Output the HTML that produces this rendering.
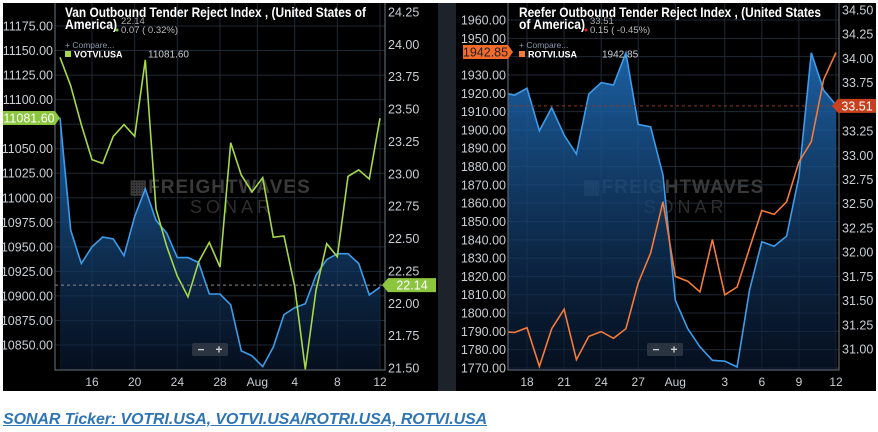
<!DOCTYPE html>
<html><head><meta charset="utf-8">
<style>
html,body{margin:0;padding:0;background:#fff;width:878px;height:432px;overflow:hidden;font-family:"Liberation Sans",sans-serif}
svg{display:block;position:absolute;left:0;top:0}
#link{position:absolute;left:3px;top:411px;font:italic bold 16px "Liberation Sans",sans-serif;color:#2e75b6;text-decoration:underline;white-space:nowrap;letter-spacing:-0.1px}
</style></head>
<body>
<svg id="chart" width="878" height="432">
  <defs>
    <linearGradient id="gfill" x1="0" y1="0" x2="0" y2="1">
      <stop offset="0" stop-color="#1d66ad" stop-opacity="0.95"/>
      <stop offset="1" stop-color="#0a1a33" stop-opacity="0.6"/>
    </linearGradient>
    <clipPath id="clipL"><rect x="55" y="3" width="330" height="367"/></clipPath>
    <clipPath id="clipR"><rect x="508" y="3" width="331" height="367"/></clipPath>
  </defs>
  <rect x="0" y="0" width="878" height="395" fill="#fff"/>
  <rect x="3" y="3" width="435" height="388" fill="#000"/>
  <rect x="438" y="3" width="18" height="388" fill="#1c232b"/>
  <rect x="456" y="3" width="420" height="388" fill="#000"/>
  <g id="gL"></g>
  <g id="gR"></g>
</svg>
<div id="link">SONAR Ticker: VOTRI.USA, VOTVI.USA/ROTRI.USA, ROTVI.USA</div>
<script>
// ---- Van (left) data: day index (July day; Aug n = 31+n) ----
const vanDays = [13,14,15,16,17,18,19,20,21,22,23,24,25,26,27,28,29,30,31,32,33,34,35,36,37,38,39,40,41,42,43];
const vanBlue = [11081.6,10967,10933,10950,10960,10958,10941,10981,11009,10977,10964,10939,10939,10934,10902,10902,10891,10844,10839,10828,10848,10881,10888,10892,10921,10937,10943,10943,10933,10901,10909];
const vanGreen = [23.90,23.68,23.38,23.11,23.08,23.29,23.38,23.29,23.88,22.73,22.44,22.21,22.05,22.32,22.47,22.28,23.24,22.99,22.86,22.97,22.51,22.52,22.13,21.49,22.10,22.46,22.36,22.98,23.03,22.96,23.43];
const vanXTicks = [16,20,24,28,31.5,35,39,43];
const vanXLabels = ["16","20","24","28","Aug","4","8","12"];
const vanLTicks = [10850,10875,10900,10925,10950,10975,11000,11025,11050,11075,11100,11125,11150,11175];
const vanRTicks = [21.50,21.75,22.00,22.25,22.50,22.75,23.00,23.25,23.50,23.75,24.00,24.25];
// ---- Reefer (right) data ----
const refDays = [16,17,18,19,20,21,22,23,24,25,26,27,28,29,30,31,32,33,34,35,36,37,38,39,40,41,42,43];
const refBlue = [1920.3,1919.0,1922.7,1899.5,1912.1,1897.2,1886.8,1919.6,1925.8,1924.5,1942.1,1903.0,1901.7,1875.3,1807.0,1791.5,1781.5,1774.2,1773.7,1770.6,1812.5,1838.9,1836.5,1842.0,1874.4,1942.1,1921.7,1913.6];
const refOrange = [31.18,31.17,31.22,30.82,31.21,31.41,30.89,31.13,31.18,31.11,31.21,31.68,31.99,32.52,31.75,31.70,31.59,32.13,31.56,31.64,32.04,32.43,32.39,32.52,32.93,33.14,33.78,34.06];
const refXTicks = [18,21,24,27,30,34,37,40,43];
const refXLabels = ["18","21","24","27","Aug","3","6","9","12"];
const refLTicks = [1770,1780,1790,1800,1810,1820,1830,1840,1850,1860,1870,1880,1890,1900,1910,1920,1930,1940,1950,1960];
const refRTicks = [31.00,31.25,31.50,31.75,32.00,32.25,32.50,32.75,33.00,33.25,33.50,33.75,34.00,34.25,34.50];

const NS="http://www.w3.org/2000/svg";
function mk(parent,tag,attrs,text){const e=document.createElementNS(NS,tag);for(const k in attrs)e.setAttribute(k,attrs[k]);if(text!==undefined)e.textContent=text;parent.appendChild(e);return e;}
function lin(d0,d1,r0,r1){return v=>r0+(v-d0)*(r1-r0)/(d1-d0);}

function panel(cfg){
  const g=document.getElementById(cfg.gid);
  const x=lin(cfg.xd0,cfg.xd1,cfg.xr0,cfg.xr1);
  const yl=lin(cfg.ld0,cfg.ld1,cfg.lr0,cfg.lr1);
  const yr=lin(cfg.rd0,cfg.rd1,cfg.rr0,cfg.rr1);
  const L=cfg.left,R=cfg.right,B=370,T=3;
  cfg.lTicks.forEach(v=>{
    const l=mk(g,'line',{x1:L,x2:R,y1:yl(v),y2:yl(v),stroke:'#1f2933','stroke-width':1});
    
    
  });
  cfg.xTicks.forEach(v=>{
    const l=mk(g,'line',{x1:x(v),x2:x(v),y1:T,y2:B,stroke:'#1f2933','stroke-width':1});
    
    
  });
  const wm=mk(g,'text',{x:(L+R)/2,y:193,'text-anchor':'middle','font-size':19,'font-weight':'bold',fill:'#3a3a3a','letter-spacing':'1'},'▦FREIGHTWAVES');
  
  
  const wm2=mk(g,'text',{x:(L+R)/2+12,y:213,'text-anchor':'middle','font-size':18,fill:'#2e2e2e','letter-spacing':'4'},'SONAR');
  
  
  const cg=mk(g,'g',{'clip-path':cfg.clip});
  let pts=cfg.days.map((d,i)=>x(d).toFixed(1)+','+yl(cfg.blue[i]).toFixed(1));
  const area=mk(cg,'polygon',{points:x(cfg.days[0])+','+B+' '+pts.join(' ')+' '+x(cfg.days[cfg.days.length-1])+','+B,fill:'url(#gfill)'});
  
  
  const bl=mk(cg,'polyline',{points:pts.join(' '),fill:'none',stroke:'#3d9be9','stroke-width':1.6});
  
  
  const dl=mk(g,'line',{x1:L,x2:R,y1:yr(cfg.lastR),y2:yr(cfg.lastR),stroke:cfg.dashColor,'stroke-width':1,'stroke-dasharray':'3,3'});
  
  
  const p2=cfg.days.map((d,i)=>x(d).toFixed(1)+','+yr(cfg.second[i]).toFixed(1));
  const sl=mk(cg,'polyline',{points:p2.join(' '),fill:'none',stroke:cfg.secColor,'stroke-width':1.6});
  
  
  const ax=mk(g,'polyline',{points:L+','+T+' '+L+','+B+' '+R+','+B+' '+R+','+T,fill:'none',stroke:'#6a737c','stroke-width':1});
  
  
  cfg.lTicks.forEach(v=>{
    if(cfg.hideL && v===cfg.hideL) return;
    const t=mk(g,'text',{x:L-2,y:yl(v)+4.5,'text-anchor':'end','font-size':12.5,fill:'#c9ced3'},v.toFixed(2));
    
    
  });
  cfg.rTicks.forEach(v=>{
    const t=mk(g,'text',{x:R+3,y:yr(v)+4.5,'font-size':12.5,fill:'#c9ced3'},v.toFixed(2));
    
    
  });
  cfg.xTicks.forEach((v,i)=>{
    const t=mk(g,'text',{x:x(v),y:386,'text-anchor':'middle','font-size':12,fill:'#c9ced3'},cfg.xLabels[i]);
    
    
  });
  const tt=mk(g,'text',{x:cfg.titleX,y:17,'font-size':14,'font-weight':'bold',fill:'#fff',textLength:cfg.t1w,lengthAdjust:'spacingAndGlyphs'},cfg.title1);
  
  
  mk(g,'text',{x:cfg.titleX,y:29,'font-size':14,'font-weight':'bold',fill:'#fff',textLength:cfg.t2w,lengthAdjust:'spacingAndGlyphs'},cfg.title2);
  const sm=mk(g,'text',{x:cfg.smallX,y:24,'font-size':9.5,fill:'#aaa'},cfg.lastStr);
  
  
  const ch=mk(g,'text',{x:cfg.smallX,y:33,'font-size':9.5,fill:'#bbb'},cfg.changeStr);
  
  
  mk(g,'circle',{cx:cfg.smallX-4,cy:30,r:1.5,fill:cfg.changeDot});
  const cp=mk(g,'text',{x:cfg.titleX,y:48,'font-size':8.5,fill:'#8a9bb0'},'+ Compare...');
  
  
  mk(g,'rect',{x:cfg.titleX,y:51,width:6,height:6,fill:cfg.secColor});
  const lg=mk(g,'text',{x:cfg.titleX+9,y:57.5,'font-size':9,'font-weight':'bold',fill:'#fff'},cfg.legName);
  
  
  mk(g,'text',{x:cfg.titleX+83,y:57.5,'font-size':10,fill:'#c9ced3'},cfg.legVal);
  const lt=cfg.leftTag;
  const tg1=mk(g,'polygon',{points:lt.x0+','+(lt.y-7)+' '+(lt.x1)+','+(lt.y-7)+' '+(lt.x1+5)+','+lt.y+' '+lt.x1+','+(lt.y+7)+' '+lt.x0+','+(lt.y+7),fill:lt.color});
  
  
  mk(g,'text',{x:(lt.x0+lt.x1)/2,y:lt.y+4.5,'text-anchor':'middle','font-size':12.5,fill:lt.text},lt.label);
  const rt=cfg.rightTag, ry=yr(cfg.lastR);
  const tg2=mk(g,'polygon',{points:(rt.x0-6)+','+ry+' '+rt.x0+','+(ry-7)+' '+rt.x1+','+(ry-7)+' '+rt.x1+','+(ry+7)+' '+rt.x0+','+(ry+7),fill:rt.color});
  
  
  mk(g,'text',{x:(rt.x0+rt.x1)/2,y:ry+4.5,'text-anchor':'middle','font-size':12.5,fill:'#fff'},rt.label);
  const zb=mk(g,'rect',{x:cfg.zoomX,y:343,width:36,height:13,rx:2,fill:'#2a3440'});
  
  
  const zm=mk(g,'text',{x:cfg.zoomX+9,y:353.5,'text-anchor':'middle','font-size':12,'font-weight':'bold',fill:'#ccc'},'−');
  
  
  const zp=mk(g,'text',{x:cfg.zoomX+27,y:353.5,'text-anchor':'middle','font-size':12,'font-weight':'bold',fill:'#ccc'},'+');
  
  
}

panel({gid:'gL',clip:'url(#clipL)',left:55,right:385,
  xd0:16,xd1:43,xr0:92,xr1:380,
  ld0:10850,ld1:11175,lr0:345,lr1:26,
  rd0:21.5,rd1:24.25,rr0:368,rr1:12,
  days:vanDays,blue:vanBlue,second:vanGreen,secColor:'#a6d84a',secName:'green-series-line',
  xTicks:vanXTicks,xLabels:vanXLabels,lTicks:vanLTicks,rTicks:vanRTicks,hideL:11075,
  lastR:22.14,dashColor:'#888',
  title1:'Van Outbound Tender Reject Index , (United States of',title2:'America)',titleX:65,smallX:121,t1w:301,t2w:52,
  lastStr:'22.14',changeStr:'0.07 ( 0.32%)',changeDot:'#7ac943',
  legName:'VOTVI.USA',legVal:'11081.60',
  leftTag:{x0:3,x1:55,y:118,color:'#8cc63f',text:'#fff',label:'11081.60'},
  rightTag:{x0:388,x1:436,label:'22.14',color:'#8cc63f'},
  zoomX:192});

panel({gid:'gR',clip:'url(#clipR)',left:508,right:839,
  xd0:18,xd1:43,xr0:527,xr1:836,
  ld0:1770,ld1:1960,lr0:368,lr1:20,
  rd0:31,rd1:34.5,rr0:349,rr1:10,
  days:refDays,blue:refBlue,second:refOrange,secColor:'#f47a3a',secName:'orange-series-line',
  xTicks:refXTicks,xLabels:refXLabels,lTicks:refLTicks,rTicks:refRTicks,hideL:1940,
  lastR:33.51,dashColor:'#8a3b2a',
  title1:'Reefer Outbound Tender Reject Index , (United States',title2:'of America)',titleX:519,smallX:590,t1w:302,t2w:66,
  lastStr:'33.51',changeStr:'0.15 ( -0.45%)',changeDot:'#e02020',
  legName:'ROTVI.USA',legVal:'1942.85',
  leftTag:{x0:463,x1:508,y:52,color:'#f26b2a',text:'#222',label:'1942.85'},
  rightTag:{x0:838,x1:876,label:'33.51',color:'#c9401e'},
  zoomX:647});
</script>
</body></html>
